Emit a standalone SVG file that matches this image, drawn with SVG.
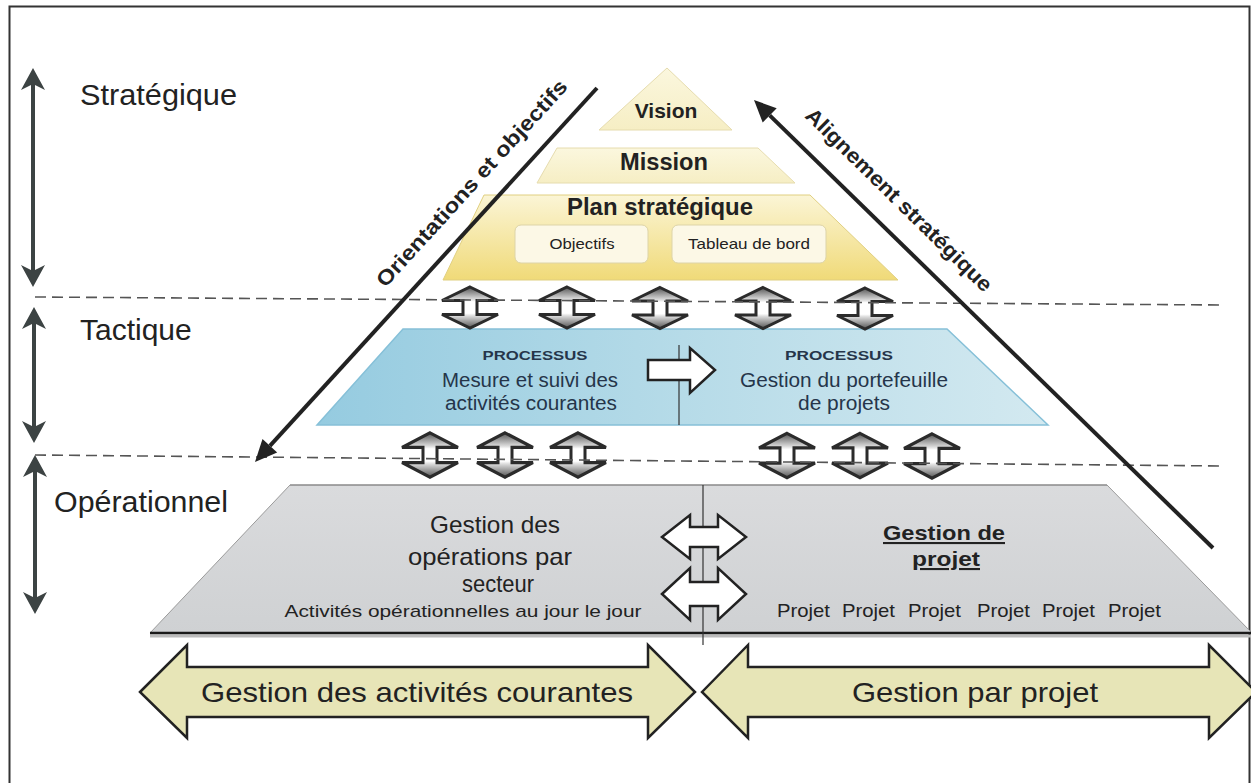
<svg xmlns="http://www.w3.org/2000/svg" width="1251" height="783" viewBox="0 0 1251 783">
<style>
.t{font-family:"Liberation Sans",Arial,sans-serif;fill:#222}
.b{font-weight:bold}
.blue{fill:#25354a}
.dash{stroke:#555;stroke-width:1.6;stroke-dasharray:11 6;fill:none}
.harr{fill:#fff;stroke:#222;stroke-width:2.5;stroke-linejoin:miter}
.varr{fill:url(#gVa);stroke:#2b2b2b;stroke-width:3;stroke-linejoin:miter}
.lvl{stroke:#3c4343;stroke-width:4;fill:none}
.diag{stroke:#222;stroke-width:4;fill:none}
.big{fill:#e7e5b7;stroke:#222;stroke-width:2.5;stroke-linejoin:miter}
</style>
<defs>
<linearGradient id="gPlan" x1="0" y1="0" x2="0" y2="1"><stop offset="0" stop-color="#fbf5d6"/><stop offset="1" stop-color="#f0da78"/></linearGradient>
<linearGradient id="gTop" x1="0" y1="0" x2="0" y2="1"><stop offset="0" stop-color="#fbf7de"/><stop offset="1" stop-color="#f6eec4"/></linearGradient>
<linearGradient id="gBlue" x1="0" y1="0" x2="1" y2="0"><stop offset="0" stop-color="#95cbe0"/><stop offset="0.5" stop-color="#b6dbe8"/><stop offset="1" stop-color="#d3e9f0"/></linearGradient>
<linearGradient id="gGray" x1="0" y1="0" x2="0" y2="1"><stop offset="0" stop-color="#dadbdd"/><stop offset="1" stop-color="#cfd1d3"/></linearGradient>
<linearGradient id="gVa" x1="0" y1="0" x2="0" y2="1"><stop offset="0" stop-color="#555"/><stop offset="0.3" stop-color="#ddd"/><stop offset="0.36" stop-color="#fff"/><stop offset="0.64" stop-color="#fff"/><stop offset="0.7" stop-color="#ddd"/><stop offset="1" stop-color="#555"/></linearGradient>
<path id="va" d="M0,-20.5 L28,-7 L7,-7 L7,7 L28,7 L0,20.5 L-28,7 L-7,7 L-7,-7 L-28,-7 Z"/>
</defs>

<rect x="9.5" y="6.5" width="1240" height="800" fill="#fff" stroke="#333" stroke-width="2"/>

<g id="levels">
  <g id="level-strategique">
    <line class="lvl" x1="33" y1="84" x2="33" y2="271"/>
    <path d="M33,68 L45,90 L33,84 L21,90 Z" fill="#3c4343"/>
    <path d="M33,287 L45,265 L33,271 L21,265 Z" fill="#3c4343"/>
    <text class="t" x="80" y="105" font-size="30" textLength="157" lengthAdjust="spacingAndGlyphs">Stratégique</text>
  </g>
  <g id="level-tactique">
    <line class="lvl" x1="34" y1="323" x2="34" y2="427"/>
    <path d="M34,307 L46,329 L34,323 L22,329 Z" fill="#3c4343"/>
    <path d="M34,443 L46,421 L34,427 L22,421 Z" fill="#3c4343"/>
    <text class="t" x="80" y="340" font-size="30">Tactique</text>
  </g>
  <g id="level-operationnel">
    <line class="lvl" x1="35" y1="471" x2="35" y2="598"/>
    <path d="M35,455 L47,477 L35,471 L23,477 Z" fill="#3c4343"/>
    <path d="M35,614 L47,592 L35,598 L23,592 Z" fill="#3c4343"/>
    <text class="t" x="54" y="512" font-size="30" textLength="174" lengthAdjust="spacingAndGlyphs">Opérationnel</text>
  </g>
</g>

<g id="vision">
  <polygon points="667,68 732,130 599,130" fill="url(#gTop)" stroke="#e6dcae" stroke-width="1"/>
  <text class="t b" x="666" y="118" font-size="21" text-anchor="middle">Vision</text>
</g>
<g id="mission">
  <polygon points="557,148 758,148 795,183 537,183" fill="url(#gTop)" stroke="#e6dcae" stroke-width="1"/>
  <text class="t b" x="664" y="170" font-size="23" text-anchor="middle" textLength="88" lengthAdjust="spacingAndGlyphs">Mission</text>
</g>
<g id="plan-strategique">
  <polygon points="484,195 810,195 898,280 443,280" fill="url(#gPlan)" stroke="#e0cf80" stroke-width="1"/>
  <text class="t b" x="660" y="215" font-size="23" text-anchor="middle" textLength="186" lengthAdjust="spacingAndGlyphs">Plan stratégique</text>
  <g id="objectifs">
    <rect x="515" y="225" width="133" height="38" rx="6" fill="#fcf8e6" stroke="#ddd4a8" stroke-width="1"/>
    <text class="t" x="582" y="249" font-size="15" text-anchor="middle" textLength="65" lengthAdjust="spacingAndGlyphs">Objectifs</text>
  </g>
  <g id="tableau-de-bord">
    <rect x="672" y="225" width="154" height="38" rx="6" fill="#fcf8e6" stroke="#ddd4a8" stroke-width="1"/>
    <text class="t" x="749" y="249" font-size="15" text-anchor="middle" textLength="122" lengthAdjust="spacingAndGlyphs">Tableau de bord</text>
  </g>
</g>

<g id="processus">
  <polygon points="403,329 947,329 1048,425 317,425" fill="url(#gBlue)" stroke="#86c0d8" stroke-width="1.5"/>
  <line x1="679" y1="345" x2="679" y2="425" stroke="#333" stroke-width="1.2"/>
  <g id="processus-mesure">
    <text class="t b blue" x="535" y="360" font-size="13" text-anchor="middle" textLength="105" lengthAdjust="spacingAndGlyphs">PROCESSUS</text>
    <text class="t blue" x="530" y="387" font-size="20" text-anchor="middle" textLength="176" lengthAdjust="spacingAndGlyphs">Mesure et suivi des</text>
    <text class="t blue" x="531" y="410" font-size="20" text-anchor="middle" textLength="172" lengthAdjust="spacingAndGlyphs">activités courantes</text>
  </g>
  <g id="processus-portefeuille">
    <text class="t b blue" x="839" y="360" font-size="13" text-anchor="middle" textLength="108" lengthAdjust="spacingAndGlyphs">PROCESSUS</text>
    <text class="t blue" x="844" y="387" font-size="20" text-anchor="middle" textLength="208" lengthAdjust="spacingAndGlyphs">Gestion du portefeuille</text>
    <text class="t blue" x="844" y="410" font-size="20" text-anchor="middle" textLength="92" lengthAdjust="spacingAndGlyphs">de projets</text>
  </g>
  <path class="harr" d="M648,360 L690,360 L690,348 L715,370 L690,393 L690,380 L648,380 Z"/>
</g>

<g id="operationnel">
  <polygon points="290,485 1107,485 1252,633 150,633" fill="url(#gGray)"/>
  <line x1="290" y1="485" x2="1107" y2="485" stroke="#8a8a8a" stroke-width="1.5"/>
  <line x1="290" y1="485" x2="150" y2="633" stroke="#9a9a9a" stroke-width="1"/>
  <line x1="1107" y1="485" x2="1252" y2="633" stroke="#9a9a9a" stroke-width="1"/>
  <line x1="150" y1="636" x2="1251" y2="636" stroke="#bbb" stroke-width="3"/>
  <line x1="150" y1="633" x2="1251" y2="633" stroke="#1a1a1a" stroke-width="2.5"/>
  <line x1="703" y1="485" x2="703" y2="645" stroke="#333" stroke-width="1.2"/>
  <g id="gestion-operations">
    <text class="t" x="495" y="533" font-size="24" text-anchor="middle" textLength="130" lengthAdjust="spacingAndGlyphs">Gestion des</text>
    <text class="t" x="490" y="565" font-size="24" text-anchor="middle" textLength="164" lengthAdjust="spacingAndGlyphs">opérations par</text>
    <text class="t" x="498" y="592" font-size="24" text-anchor="middle" textLength="72" lengthAdjust="spacingAndGlyphs">secteur</text>
    <text class="t" x="463" y="617" font-size="17" text-anchor="middle" textLength="357" lengthAdjust="spacingAndGlyphs">Activités opérationnelles au jour le jour</text>
  </g>
  <g id="gestion-projet">
    <text class="t b" x="944" y="540" font-size="21" text-anchor="middle" textLength="122" lengthAdjust="spacingAndGlyphs" text-decoration="underline">Gestion de</text>
    <text class="t b" x="946" y="566" font-size="21" text-anchor="middle" textLength="68" lengthAdjust="spacingAndGlyphs" text-decoration="underline">projet</text>
    <text class="t" x="777" y="617" font-size="19" textLength="53" lengthAdjust="spacingAndGlyphs">Projet</text>
    <text class="t" x="842" y="617" font-size="19" textLength="53" lengthAdjust="spacingAndGlyphs">Projet</text>
    <text class="t" x="908" y="617" font-size="19" textLength="53" lengthAdjust="spacingAndGlyphs">Projet</text>
    <text class="t" x="977" y="617" font-size="19" textLength="53" lengthAdjust="spacingAndGlyphs">Projet</text>
    <text class="t" x="1042" y="617" font-size="19" textLength="53" lengthAdjust="spacingAndGlyphs">Projet</text>
    <text class="t" x="1108" y="617" font-size="19" textLength="53" lengthAdjust="spacingAndGlyphs">Projet</text>
  </g>
  <path class="harr" d="M662,537 L690,515 L690,527 L718,527 L718,515 L746,537 L718,559 L718,547 L690,547 L690,559 Z"/>
  <path class="harr" d="M662,594 L690,568 L690,582 L718,582 L718,568 L746,594 L718,620 L718,606 L690,606 L690,620 Z"/>
</g>

<g id="connectors">
  <g id="vertical-arrows-top">
    <use href="#va" class="varr" transform="translate(470,307.5)"/>
    <use href="#va" class="varr" transform="translate(567,307.5)"/>
    <use href="#va" class="varr" transform="translate(660,308)"/>
    <use href="#va" class="varr" transform="translate(763,308)"/>
    <use href="#va" class="varr" transform="translate(865,308.5)"/>
  </g>
  <g id="vertical-arrows-bottom">
    <use href="#va" class="varr" transform="translate(430,455) scale(1,1.08)"/>
    <use href="#va" class="varr" transform="translate(505,455) scale(1,1.08)"/>
    <use href="#va" class="varr" transform="translate(578,455) scale(1,1.08)"/>
    <use href="#va" class="varr" transform="translate(787,455.5) scale(1,1.08)"/>
    <use href="#va" class="varr" transform="translate(860,455.5) scale(1,1.08)"/>
    <use href="#va" class="varr" transform="translate(932,456) scale(1,1.08)"/>
  </g>
  <line class="dash" x1="35" y1="297" x2="1222" y2="305"/>
  <line class="dash" x1="35" y1="455" x2="1222" y2="466"/>
  <g id="orientations">
    <line class="diag" x1="597" y1="88" x2="269.9" y2="445.8"/>
    <polygon points="255,462 277.2,452.5 262.5,439" fill="#222"/>
    <text class="t b" x="477" y="188" font-size="21" text-anchor="middle" textLength="272" lengthAdjust="spacingAndGlyphs" transform="rotate(-47.6 477 188)">Orientations et objectifs</text>
  </g>
  <g id="alignement">
    <line class="diag" x1="1213" y1="548" x2="769.7" y2="115.4"/>
    <polygon points="754,100 776.7,108.2 762.7,122.6" fill="#222"/>
    <text class="t b" x="894" y="205" font-size="21" text-anchor="middle" textLength="252" lengthAdjust="spacingAndGlyphs" transform="rotate(44.4 894 205)">Alignement stratégique</text>
  </g>
</g>

<g id="gestion-activites-courantes">
  <path class="big" d="M140,692 L187,645 L187,667 L648,667 L648,645 L695,692 L648,738 L648,717 L187,717 L187,738 Z"/>
  <text class="t" x="417" y="702" font-size="28" text-anchor="middle" textLength="432" lengthAdjust="spacingAndGlyphs">Gestion des activités courantes</text>
</g>
<g id="gestion-par-projet">
  <path class="big" d="M702,692 L748,645 L748,667 L1209,667 L1209,645 L1256,692 L1209,738 L1209,717 L748,717 L748,738 Z"/>
  <text class="t" x="975" y="702" font-size="28" text-anchor="middle" textLength="246" lengthAdjust="spacingAndGlyphs">Gestion par projet</text>
</g>
</svg>
